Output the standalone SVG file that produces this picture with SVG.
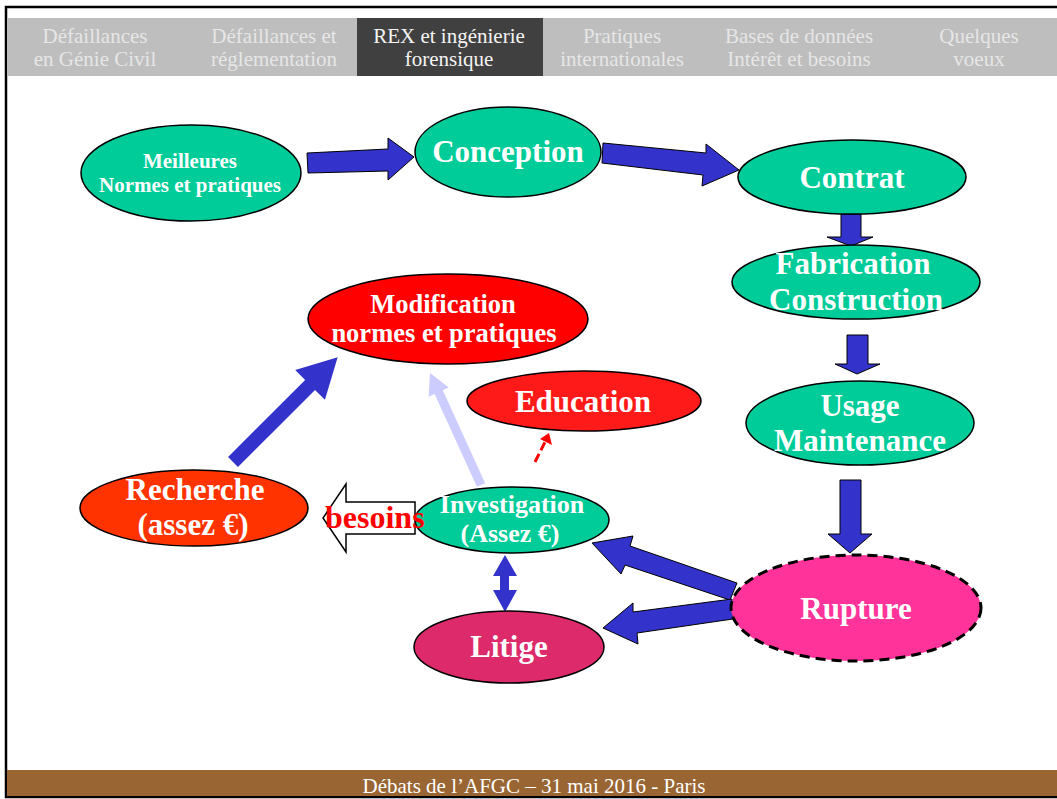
<svg xmlns="http://www.w3.org/2000/svg" width="1057" height="799" viewBox="0 0 1057 799">
<style>
.tab{font-family:"Liberation Serif","Times New Roman",serif;font-size:21px;fill:#E6E6E6;text-anchor:middle}
.tabA{fill:#F4F4F4}
.lbl{font-family:"Liberation Serif","Times New Roman",serif;font-weight:bold;fill:#FFFFFF;text-anchor:middle}
.node{stroke:#000;stroke-width:1.5}
.teal{fill:#00CC99}
.blk{fill:#3333CC;stroke:#000;stroke-width:1}
.blu{fill:#3333CC}
</style>
<rect x="0" y="0" width="1057" height="799" fill="#FFFFFF"/>
<rect x="6" y="7" width="1060" height="790" fill="#FFFFFF" stroke="#000" stroke-width="2.5"/>
<g id="tabs">
<rect x="7" y="18" width="1050" height="58" fill="#BEBEBE"/>
<rect x="357" y="18" width="186" height="58" fill="#404040"/>
<text class="tab" x="95" y="43">Défaillances</text>
<text class="tab" x="95" y="66">en Génie Civil</text>
<text class="tab" x="274" y="43">Défaillances et</text>
<text class="tab" x="274" y="66">réglementation</text>
<text class="tab tabA" x="449" y="43">REX et ingénierie</text>
<text class="tab tabA" x="449" y="66">forensique</text>
<text class="tab" x="622" y="43">Pratiques</text>
<text class="tab" x="622" y="66">internationales</text>
<text class="tab" x="799" y="43">Bases de données</text>
<text class="tab" x="799" y="66">Intérêt et besoins</text>
<text class="tab" x="979" y="43">Quelques</text>
<text class="tab" x="979" y="66">voeux</text>
</g>
<g id="footer">
<rect x="7" y="770" width="1050" height="26" fill="#996633"/>
<text x="534" y="793" font-family="'Liberation Serif','Times New Roman',serif" font-size="21" fill="#FFFFFF" text-anchor="middle">Débats de l’AFGC – 31 mai 2016 - Paris</text>
</g>
<g id="connectors">
<polygon class="blk" points="307,153 388,149 388,138 414,157 388,180 388,171 308,173"/>
<polygon class="blk" points="603,143 706,153 706,144 739,170 702,186 703,175 602,163"/>
<polygon class="blk" points="841,214 861,214 861,237 873,237 851,246 827,237 841,237"/>
<polygon class="blk" points="847,335 868,335 868,364 880,364 857,374 835,364 847,364"/>
<polygon class="blk" points="840,480 861,480 861,534 872,534 850,553 828,534 840,534"/>
<polygon class="blk" points="737,583 630,546 633,536 592,543 621,574 625,565 730,600"/>
<polygon class="blk" points="732,599 633,612 633,603 603,628 638,644 637,633 733,619"/>
<polygon class="blu" points="505,555 517,576 509,576 509,590 517,590 505,612 493,590 500,590 500,576 493,576"/>
<polygon class="blu" transform="translate(233,462) rotate(-45)" points="0,-7 109,-7 109,-21 148,0 109,21 109,7 0,7"/>
<polygon fill="#CCCCFF" transform="translate(481,485) rotate(-114.5)" points="0,-4.5 102,-4.5 102,-11 123,0 102,11 102,4.5 0,4.5"/>
<line x1="535" y1="462" x2="545" y2="442" stroke="#FF0000" stroke-width="3" stroke-dasharray="9,4"/>
<polygon fill="#FF0000" points="549,433 552,445 540,439"/>
</g>
<g id="n-meilleures">
<ellipse class="node teal" cx="191" cy="173" rx="110" ry="48"/>
<text class="lbl" font-size="21" x="190" y="168">Meilleures</text>
<text class="lbl" font-size="21" x="190" y="192">Normes et pratiques</text>
</g>
<g id="n-conception">
<ellipse class="node teal" cx="508" cy="152" rx="93" ry="45"/>
<text class="lbl" font-size="31" x="508" y="162">Conception</text>
</g>
<g id="n-contrat">
<ellipse class="node teal" cx="852" cy="177" rx="114" ry="37"/>
<text class="lbl" font-size="31" x="852" y="188">Contrat</text>
</g>
<g id="n-fabrication">
<ellipse class="node teal" cx="856" cy="282" rx="124" ry="37"/>
<text class="lbl" font-size="31" x="853" y="274">Fabrication</text>
<text class="lbl" font-size="31" x="856" y="310">Construction</text>
</g>
<g id="n-usage">
<ellipse class="node teal" cx="860" cy="423" rx="114" ry="42"/>
<text class="lbl" font-size="31" x="860" y="416">Usage</text>
<text class="lbl" font-size="31" x="860" y="451">Maintenance</text>
</g>
<g id="n-rupture">
<ellipse cx="856" cy="608" rx="125" ry="53" fill="#FF3399" stroke="#000" stroke-width="3" stroke-dasharray="10,6"/>
<text class="lbl" font-size="31" x="856" y="619">Rupture</text>
</g>
<g id="n-litige">
<ellipse class="node" fill="#DC2A6A" cx="509" cy="647" rx="95" ry="36"/>
<text class="lbl" font-size="31" x="509" y="657">Litige</text>
</g>
<g id="n-investigation">
<ellipse class="node teal" cx="512" cy="520" rx="97" ry="33"/>
<text class="lbl" font-size="26" x="512" y="513">Investigation</text>
<text class="lbl" font-size="26" x="510" y="542">(Assez €)</text>
</g>
<g id="n-education">
<ellipse class="node" fill="#FF1A1A" cx="584" cy="401" rx="117" ry="30"/>
<text class="lbl" font-size="31" x="583" y="412">Education</text>
</g>
<g id="n-modification">
<ellipse class="node" fill="#FF0000" cx="448" cy="319" rx="140" ry="45"/>
<text class="lbl" font-size="26.5" x="443" y="313">Modification</text>
<text class="lbl" font-size="26.5" x="444" y="342">normes et pratiques</text>
</g>
<g id="n-recherche">
<ellipse class="node" fill="#FF3300" cx="194" cy="508" rx="114" ry="38"/>
<text class="lbl" font-size="31" x="195" y="500">Recherche</text>
<text class="lbl" font-size="31" x="193" y="535">(assez €)</text>
</g>
<g id="besoins">
<polygon points="415,502 346,502 346,484 323,518 346,552 346,534 415,534" fill="#FFFFFF" stroke="#000" stroke-width="1.5"/>
<text x="325" y="528" font-family="'Liberation Serif','Times New Roman',serif" font-weight="bold" font-size="32" fill="#FF0000">besoins</text>
</g>
</svg>
